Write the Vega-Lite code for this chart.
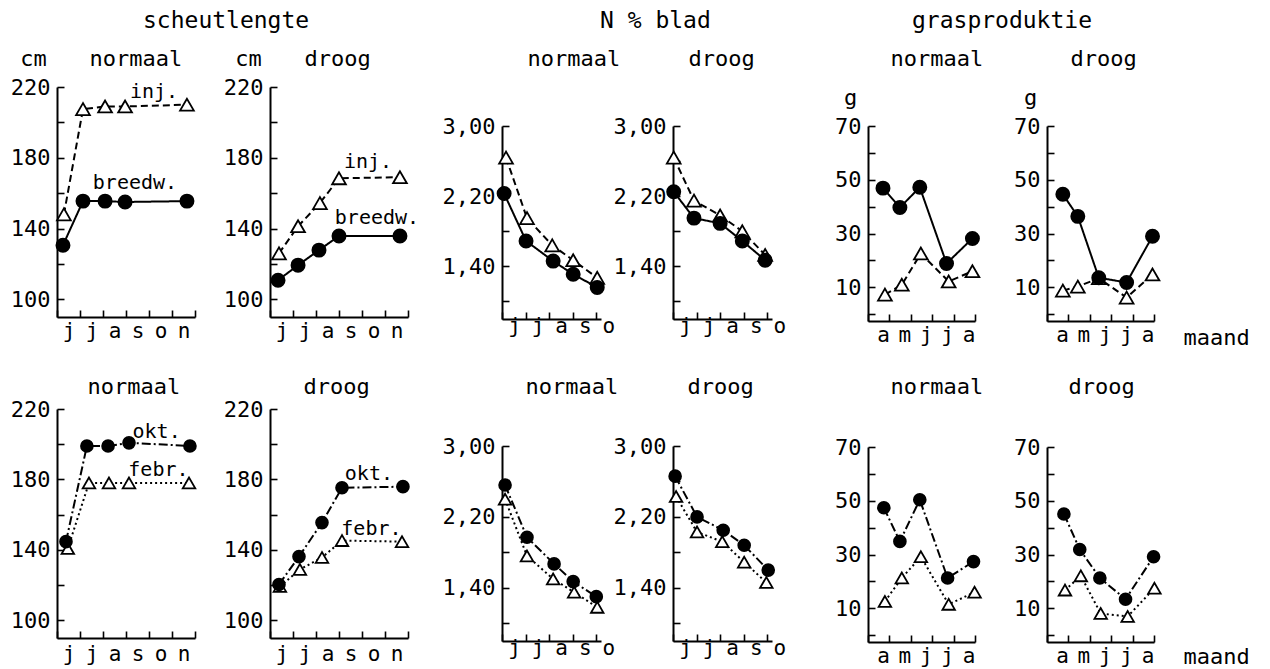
{
  "$schema": "https://vega.github.io/schema/vega-lite/v6.json",
  "background": "white",
  "padding": {"left": 10, "top": 10, "right": 5, "bottom": 5},
  "columns": 6,
  "spacing": {"row": 88, "column": 20},
  "bounds": "flush",
  "align": "each",
  "datasets": {
    "pts": [
      {"p":"A1","s":"inj.","m":0.3,"v":148},{"p":"A1","s":"inj.","m":1.13,"v":207.5},{"p":"A1","s":"inj.","m":2.09,"v":209},{"p":"A1","s":"inj.","m":2.96,"v":209},{"p":"A1","s":"inj.","m":5.65,"v":210},
      {"p":"A1","s":"breedw.","m":0.26,"v":130.6},{"p":"A1","s":"breedw.","m":1.13,"v":155.5},{"p":"A1","s":"breedw.","m":2.09,"v":155.5},{"p":"A1","s":"breedw.","m":2.96,"v":155},{"p":"A1","s":"breedw.","m":5.65,"v":155.5},
      {"p":"B1","s":"inj.","m":0.39,"v":126},{"p":"B1","s":"inj.","m":1.22,"v":141.3},{"p":"B1","s":"inj.","m":2.17,"v":154.4},{"p":"B1","s":"inj.","m":3.0,"v":168.4},{"p":"B1","s":"inj.","m":5.65,"v":169},
      {"p":"B1","s":"breedw.","m":0.35,"v":110.8},{"p":"B1","s":"breedw.","m":1.22,"v":119.3},{"p":"B1","s":"breedw.","m":2.13,"v":127.8},{"p":"B1","s":"breedw.","m":3.0,"v":135.8},{"p":"B1","s":"breedw.","m":5.65,"v":135.8},
      {"p":"C1","s":"inj.","m":0.17,"v":2.64},{"p":"C1","s":"inj.","m":1.06,"v":1.95},{"p":"C1","s":"inj.","m":2.13,"v":1.64},{"p":"C1","s":"inj.","m":3.02,"v":1.47},{"p":"C1","s":"inj.","m":4.04,"v":1.27},
      {"p":"C1","s":"breedw.","m":0.09,"v":2.23},{"p":"C1","s":"breedw.","m":1.02,"v":1.69},{"p":"C1","s":"breedw.","m":2.17,"v":1.46},{"p":"C1","s":"breedw.","m":3.02,"v":1.31},{"p":"C1","s":"breedw.","m":4.04,"v":1.16},
      {"p":"D1","s":"inj.","m":0.03,"v":2.64},{"p":"D1","s":"inj.","m":0.89,"v":2.15},{"p":"D1","s":"inj.","m":2.0,"v":1.98},{"p":"D1","s":"inj.","m":2.94,"v":1.80},{"p":"D1","s":"inj.","m":3.91,"v":1.53},
      {"p":"D1","s":"breedw.","m":0.03,"v":2.25},{"p":"D1","s":"breedw.","m":0.89,"v":1.95},{"p":"D1","s":"breedw.","m":2.0,"v":1.89},{"p":"D1","s":"breedw.","m":2.94,"v":1.69},{"p":"D1","s":"breedw.","m":3.91,"v":1.47},
      {"p":"E1","s":"inj.","m":0.79,"v":7.3},{"p":"E1","s":"inj.","m":1.58,"v":11},{"p":"E1","s":"inj.","m":2.47,"v":22.6},{"p":"E1","s":"inj.","m":3.77,"v":12.2},{"p":"E1","s":"inj.","m":4.88,"v":16},
      {"p":"E1","s":"breedw.","m":0.7,"v":46.9},{"p":"E1","s":"breedw.","m":1.49,"v":39.7},{"p":"E1","s":"breedw.","m":2.42,"v":47.2},{"p":"E1","s":"breedw.","m":3.67,"v":18.9},{"p":"E1","s":"breedw.","m":4.88,"v":28.2},
      {"p":"F1","s":"inj.","m":0.74,"v":8.8},{"p":"F1","s":"inj.","m":1.44,"v":10.3},{"p":"F1","s":"inj.","m":2.42,"v":13.4},{"p":"F1","s":"inj.","m":3.72,"v":6.2},{"p":"F1","s":"inj.","m":4.93,"v":14.8},
      {"p":"F1","s":"breedw.","m":0.74,"v":44.6},{"p":"F1","s":"breedw.","m":1.44,"v":36.4},{"p":"F1","s":"breedw.","m":2.42,"v":13.6},{"p":"F1","s":"breedw.","m":3.72,"v":11.8},{"p":"F1","s":"breedw.","m":4.93,"v":29},
      {"p":"A2","s":"febr.","m":0.47,"v":140.8},{"p":"A2","s":"febr.","m":1.39,"v":178},{"p":"A2","s":"febr.","m":2.26,"v":178},{"p":"A2","s":"febr.","m":3.13,"v":178},{"p":"A2","s":"febr.","m":5.74,"v":178},
      {"p":"A2","s":"okt.","m":0.39,"v":144.7},{"p":"A2","s":"okt.","m":1.3,"v":199},{"p":"A2","s":"okt.","m":2.22,"v":199},{"p":"A2","s":"okt.","m":3.13,"v":200.8},{"p":"A2","s":"okt.","m":5.78,"v":199},
      {"p":"B2","s":"febr.","m":0.43,"v":119.3},{"p":"B2","s":"febr.","m":1.3,"v":128.9},{"p":"B2","s":"febr.","m":2.26,"v":135.7},{"p":"B2","s":"febr.","m":3.13,"v":145.3},{"p":"B2","s":"febr.","m":5.74,"v":144.7},
      {"p":"B2","s":"okt.","m":0.39,"v":120.4},{"p":"B2","s":"okt.","m":1.26,"v":136.2},{"p":"B2","s":"okt.","m":2.26,"v":155.5},{"p":"B2","s":"okt.","m":3.13,"v":175.3},{"p":"B2","s":"okt.","m":5.78,"v":175.9},
      {"p":"C2","s":"febr.","m":0.13,"v":2.40},{"p":"C2","s":"febr.","m":1.06,"v":1.76},{"p":"C2","s":"febr.","m":2.17,"v":1.50},{"p":"C2","s":"febr.","m":3.06,"v":1.35},{"p":"C2","s":"febr.","m":4.04,"v":1.18},
      {"p":"C2","s":"okt.","m":0.13,"v":2.56},{"p":"C2","s":"okt.","m":1.06,"v":1.97},{"p":"C2","s":"okt.","m":2.21,"v":1.67},{"p":"C2","s":"okt.","m":3.02,"v":1.47},{"p":"C2","s":"okt.","m":4.0,"v":1.30},
      {"p":"D2","s":"febr.","m":0.13,"v":2.43},{"p":"D2","s":"febr.","m":1.02,"v":2.03},{"p":"D2","s":"febr.","m":2.09,"v":1.92},{"p":"D2","s":"febr.","m":3.02,"v":1.69},{"p":"D2","s":"febr.","m":3.96,"v":1.46},
      {"p":"D2","s":"okt.","m":0.09,"v":2.66},{"p":"D2","s":"okt.","m":1.02,"v":2.20},{"p":"D2","s":"okt.","m":2.13,"v":2.05},{"p":"D2","s":"okt.","m":3.02,"v":1.88},{"p":"D2","s":"okt.","m":4.04,"v":1.60},
      {"p":"E2","s":"febr.","m":0.79,"v":12.6},{"p":"E2","s":"febr.","m":1.58,"v":21.3},{"p":"E2","s":"febr.","m":2.47,"v":29.2},{"p":"E2","s":"febr.","m":3.77,"v":11.5},{"p":"E2","s":"febr.","m":4.98,"v":16},
      {"p":"E2","s":"okt.","m":0.74,"v":47.4},{"p":"E2","s":"okt.","m":1.49,"v":34.9},{"p":"E2","s":"okt.","m":2.42,"v":50.4},{"p":"E2","s":"okt.","m":3.72,"v":21.3},{"p":"E2","s":"okt.","m":4.93,"v":27.4},
      {"p":"F2","s":"febr.","m":0.84,"v":16.8},{"p":"F2","s":"febr.","m":1.58,"v":22.1},{"p":"F2","s":"febr.","m":2.51,"v":8.1},{"p":"F2","s":"febr.","m":3.77,"v":7.0},{"p":"F2","s":"febr.","m":5.02,"v":17.5},
      {"p":"F2","s":"okt.","m":0.79,"v":45.1},{"p":"F2","s":"okt.","m":1.53,"v":31.9},{"p":"F2","s":"okt.","m":2.47,"v":21.3},{"p":"F2","s":"okt.","m":3.67,"v":13.4},{"p":"F2","s":"okt.","m":4.98,"v":29.2}
    ],
    "lbl": [
      {"p":"A1","t":"inj.","m":4.22,"v":217},{"p":"A1","t":"breedw.","m":3.39,"v":165.7},
      {"p":"B1","t":"inj.","m":4.26,"v":177.5},{"p":"B1","t":"breedw.","m":4.65,"v":145.9},
      {"p":"A2","t":"okt.","m":4.33,"v":207},{"p":"A2","t":"febr.","m":4.41,"v":185.5},
      {"p":"B2","t":"okt.","m":4.3,"v":183},{"p":"B2","t":"febr.","m":4.41,"v":152}
    ]
  },
  "concat": [
    {
      "width": 193, "height": 230,
      "title": {"text": "scheutlengte", "dx": 86, "offset": -9, "baseline": "bottom"},
      "data": {"name": "pts"},
      "transform": [{"filter": "datum.p == 'A1'"}],
      "resolve": {"axis": {"x": "independent", "y": "independent"}},
      "layer": [
        {"mark": {"type": "line", "color": "#000", "strokeWidth": 2},
         "encoding": {
           "x": {"field": "m", "type": "quantitative", "scale": {"domain": [0, 6], "range": [0, 138], "nice": false, "zero": false},
                 "axis": {"values": [0,1,2,3,4,5,6], "labelExpr": "['j','j','a','s','o','n',''][datum.value]", "labelOffset": 11.5, "labelPadding": 27, "labelOverlap": false, "title": null}},
           "y": {"field": "v", "type": "quantitative", "scale": {"domain": [90, 220], "range": [230, 0], "nice": false, "zero": false},
                 "axis": {"values": [100,120,140,160,180,200,220], "labelExpr": "datum.value == 100 || datum.value == 140 || datum.value == 180 || datum.value == 220 ? datum.label : ''", "labelOverlap": false, "title": "normaal", "titleX": 32, "titleY": -22}},
           "strokeDash": {"field": "s", "type": "nominal", "scale": {"domain": ["inj.","breedw.","febr.","okt."], "range": [[7,4],[1,0],[2,3],[9,3,2,3]]}, "legend": null}
         }},
        {"mark": {"type": "point", "filled": true, "stroke": "#000", "strokeWidth": 1.8, "opacity": 1},
         "encoding": {
           "x": {"field": "m", "type": "quantitative", "axis": {"orient": "top", "domain": false, "ticks": false, "labels": false, "title": "cm", "titleX": -24, "titleY": -22, "titleAlign": "center"}},
           "y": {"field": "v", "type": "quantitative", "axis": null},
           "shape": {"field": "s", "type": "nominal", "scale": {"domain": ["inj.","breedw.","febr.","okt."], "range": ["triangle-up","circle","triangle-up","circle"]}, "legend": null},
           "fill": {"field": "s", "type": "nominal", "scale": {"domain": ["inj.","breedw.","febr.","okt."], "range": ["#ffffff","#000000","#ffffff","#000000"]}, "legend": null},
           "size": {"field": "s", "type": "ordinal", "scale": {"domain": ["inj.","breedw.","febr.","okt."], "range": [190,140,190,140]}, "legend": null}
         }},
        {"data": {"name": "lbl"}, "transform": [{"filter": "datum.p == 'A1'"}],
         "mark": {"type": "text", "font": "DejaVu Sans Mono", "fontSize": 20, "baseline": "middle", "align": "center", "color": "#000"},
         "encoding": {"x": {"field": "m", "type": "quantitative", "axis": null}, "y": {"field": "v", "type": "quantitative", "axis": null}, "text": {"field": "t"}}}
      ]
    },
    {
      "width": 212, "height": 230,
      "data": {"name": "pts"},
      "transform": [{"filter": "datum.p == 'B1'"}],
      "resolve": {"axis": {"x": "independent", "y": "independent"}},
      "layer": [
        {"mark": {"type": "line", "color": "#000", "strokeWidth": 2},
         "encoding": {
           "x": {"field": "m", "type": "quantitative", "scale": {"domain": [0, 6], "range": [0, 138], "nice": false, "zero": false},
                 "axis": {"values": [0,1,2,3,4,5,6], "labelExpr": "['j','j','a','s','o','n',''][datum.value]", "labelOffset": 11.5, "labelPadding": 27, "labelOverlap": false, "title": null}},
           "y": {"field": "v", "type": "quantitative", "scale": {"domain": [90, 220], "range": [230, 0], "nice": false, "zero": false},
                 "axis": {"values": [100,120,140,160,180,200,220], "labelExpr": "datum.value == 100 || datum.value == 140 || datum.value == 180 || datum.value == 220 ? datum.label : ''", "labelOverlap": false, "title": "droog", "titleX": 34, "titleY": -22}},
           "strokeDash": {"field": "s", "type": "nominal", "scale": {"domain": ["inj.","breedw.","febr.","okt."], "range": [[7,4],[1,0],[2,3],[9,3,2,3]]}, "legend": null}
         }},
        {"mark": {"type": "point", "filled": true, "stroke": "#000", "strokeWidth": 1.8, "opacity": 1},
         "encoding": {
           "x": {"field": "m", "type": "quantitative", "axis": {"orient": "top", "domain": false, "ticks": false, "labels": false, "title": "cm", "titleX": -22, "titleY": -22, "titleAlign": "center"}},
           "y": {"field": "v", "type": "quantitative", "axis": null},
           "shape": {"field": "s", "type": "nominal", "scale": {"domain": ["inj.","breedw.","febr.","okt."], "range": ["triangle-up","circle","triangle-up","circle"]}, "legend": null},
           "fill": {"field": "s", "type": "nominal", "scale": {"domain": ["inj.","breedw.","febr.","okt."], "range": ["#ffffff","#000000","#ffffff","#000000"]}, "legend": null},
           "size": {"field": "s", "type": "ordinal", "scale": {"domain": ["inj.","breedw.","febr.","okt."], "range": [190,140,190,140]}, "legend": null}
         }},
        {"data": {"name": "lbl"}, "transform": [{"filter": "datum.p == 'B1'"}],
         "mark": {"type": "text", "font": "DejaVu Sans Mono", "fontSize": 20, "baseline": "middle", "align": "center", "color": "#000"},
         "encoding": {"x": {"field": "m", "type": "quantitative", "axis": null}, "y": {"field": "v", "type": "quantitative", "axis": null}, "text": {"field": "t"}}}
      ]
    },
    {
      "width": 151, "height": 232,
      "title": {"text": "N % blad", "dx": 98, "offset": -9, "baseline": "bottom"},
      "data": {"name": "pts"},
      "transform": [{"filter": "datum.p == 'C1'"}],
      "resolve": {"axis": {"x": "independent", "y": "independent"}},
      "layer": [
        {"mark": {"type": "line", "color": "#000", "strokeWidth": 2},
         "encoding": {
           "x": {"field": "m", "type": "quantitative", "scale": {"domain": [0, 4.2], "range": [0, 99], "nice": false, "zero": false},
                 "axis": {"values": [0,1,2,3,4], "labelExpr": "['j','j','a','s','o'][datum.value]", "labelOffset": 12, "labelPadding": 20, "labelOverlap": false, "title": null}},
           "y": {"field": "v", "type": "quantitative", "scale": {"domain": [0.8, 3.0], "range": [232, 39], "nice": false, "zero": false},
                 "axis": {"values": [1,1.4,1.8,2.2,2.6,3], "labelExpr": "abs(datum.value-1.4)<0.01 || abs(datum.value-2.2)<0.01 || abs(datum.value-3)<0.01 ? replace(format(datum.value,'.2f'),'.',',') : ''", "labelOverlap": false, "title": "normaal", "titleX": 25, "titleY": -22}},
           "strokeDash": {"field": "s", "type": "nominal", "scale": {"domain": ["inj.","breedw.","febr.","okt."], "range": [[7,4],[1,0],[2,3],[9,3,2,3]]}, "legend": null}
         }},
        {"mark": {"type": "point", "filled": true, "stroke": "#000", "strokeWidth": 1.8, "opacity": 1},
         "encoding": {
           "x": {"field": "m", "type": "quantitative", "axis": null},
           "y": {"field": "v", "type": "quantitative", "axis": null},
           "shape": {"field": "s", "type": "nominal", "scale": {"domain": ["inj.","breedw.","febr.","okt."], "range": ["triangle-up","circle","triangle-up","circle"]}, "legend": null},
           "fill": {"field": "s", "type": "nominal", "scale": {"domain": ["inj.","breedw.","febr.","okt."], "range": ["#ffffff","#000000","#ffffff","#000000"]}, "legend": null},
           "size": {"field": "s", "type": "ordinal", "scale": {"domain": ["inj.","breedw.","febr.","okt."], "range": [190,140,190,140]}, "legend": null}
         }}
      ]
    },
    {
      "width": 175, "height": 232,
      "data": {"name": "pts"},
      "transform": [{"filter": "datum.p == 'D1'"}],
      "resolve": {"axis": {"x": "independent", "y": "independent"}},
      "layer": [
        {"mark": {"type": "line", "color": "#000", "strokeWidth": 2},
         "encoding": {
           "x": {"field": "m", "type": "quantitative", "scale": {"domain": [0, 4.2], "range": [0, 99], "nice": false, "zero": false},
                 "axis": {"values": [0,1,2,3,4], "labelExpr": "['j','j','a','s','o'][datum.value]", "labelOffset": 12, "labelPadding": 20, "labelOverlap": false, "title": null}},
           "y": {"field": "v", "type": "quantitative", "scale": {"domain": [0.8, 3.0], "range": [232, 39], "nice": false, "zero": false},
                 "axis": {"values": [1,1.4,1.8,2.2,2.6,3], "labelExpr": "abs(datum.value-1.4)<0.01 || abs(datum.value-2.2)<0.01 || abs(datum.value-3)<0.01 ? replace(format(datum.value,'.2f'),'.',',') : ''", "labelOverlap": false, "title": "droog", "titleX": 15, "titleY": -22}},
           "strokeDash": {"field": "s", "type": "nominal", "scale": {"domain": ["inj.","breedw.","febr.","okt."], "range": [[7,4],[1,0],[2,3],[9,3,2,3]]}, "legend": null}
         }},
        {"mark": {"type": "point", "filled": true, "stroke": "#000", "strokeWidth": 1.8, "opacity": 1},
         "encoding": {
           "x": {"field": "m", "type": "quantitative", "axis": null},
           "y": {"field": "v", "type": "quantitative", "axis": null},
           "shape": {"field": "s", "type": "nominal", "scale": {"domain": ["inj.","breedw.","febr.","okt."], "range": ["triangle-up","circle","triangle-up","circle"]}, "legend": null},
           "fill": {"field": "s", "type": "nominal", "scale": {"domain": ["inj.","breedw.","febr.","okt."], "range": ["#ffffff","#000000","#ffffff","#000000"]}, "legend": null},
           "size": {"field": "s", "type": "ordinal", "scale": {"domain": ["inj.","breedw.","febr.","okt."], "range": [190,140,190,140]}, "legend": null}
         }}
      ]
    },
    {
      "width": 159, "height": 234,
      "title": {"text": "grasproduktie", "dx": 44, "offset": -9, "baseline": "bottom"},
      "data": {"name": "pts"},
      "transform": [{"filter": "datum.p == 'E1'"}],
      "resolve": {"axis": {"x": "independent", "y": "independent"}},
      "layer": [
        {"mark": {"type": "line", "color": "#000", "strokeWidth": 2},
         "encoding": {
           "x": {"field": "m", "type": "quantitative", "scale": {"domain": [0, 5], "range": [0, 107], "nice": false, "zero": false},
                 "axis": {"values": [0,1,2,3,4,5], "labelExpr": "['a','m','j','j','a',''][datum.value]", "labelOffset": 15, "labelPadding": 27, "labelOverlap": false, "title": null}},
           "y": {"field": "v", "type": "quantitative", "scale": {"domain": [-2.5, 70], "range": [234, 39], "nice": false, "zero": false},
                 "axis": {"values": [0,10,20,30,40,50,60,70], "labelExpr": "datum.value == 10 || datum.value == 30 || datum.value == 50 || datum.value == 70 ? datum.label : ''", "labelOverlap": false, "title": "normaal", "titleX": 22, "titleY": -22}},
           "strokeDash": {"field": "s", "type": "nominal", "scale": {"domain": ["inj.","breedw.","febr.","okt."], "range": [[7,4],[1,0],[2,3],[9,3,2,3]]}, "legend": null}
         }},
        {"mark": {"type": "point", "filled": true, "stroke": "#000", "strokeWidth": 1.8, "opacity": 1},
         "encoding": {
           "x": {"field": "m", "type": "quantitative", "axis": {"orient": "top", "domain": false, "ticks": false, "labels": false, "title": "g", "titleX": -18, "titleY": 17, "titleAlign": "center"}},
           "y": {"field": "v", "type": "quantitative", "axis": null},
           "shape": {"field": "s", "type": "nominal", "scale": {"domain": ["inj.","breedw.","febr.","okt."], "range": ["triangle-up","circle","triangle-up","circle"]}, "legend": null},
           "fill": {"field": "s", "type": "nominal", "scale": {"domain": ["inj.","breedw.","febr.","okt."], "range": ["#ffffff","#000000","#ffffff","#000000"]}, "legend": null},
           "size": {"field": "s", "type": "ordinal", "scale": {"domain": ["inj.","breedw.","febr.","okt."], "range": [190,140,190,140]}, "legend": null}
         }}
      ]
    },
    {
      "width": 130, "height": 234,
      "data": {"name": "pts"},
      "transform": [{"filter": "datum.p == 'F1'"}],
      "resolve": {"axis": {"x": "independent", "y": "independent"}},
      "layer": [
        {"mark": {"type": "line", "color": "#000", "strokeWidth": 2},
         "encoding": {
           "x": {"field": "m", "type": "quantitative", "scale": {"domain": [0, 5], "range": [0, 107], "nice": false, "zero": false},
                 "axis": {"values": [0,1,2,3,4,5], "labelExpr": "['a','m','j','j','a',''][datum.value]", "labelOffset": 15, "labelPadding": 27, "labelOverlap": false, "title": "maand", "titleX": 136, "titleY": 23}},
           "y": {"field": "v", "type": "quantitative", "scale": {"domain": [-2.5, 70], "range": [234, 39], "nice": false, "zero": false},
                 "axis": {"values": [0,10,20,30,40,50,60,70], "labelExpr": "datum.value == 10 || datum.value == 30 || datum.value == 50 || datum.value == 70 ? datum.label : ''", "labelOverlap": false, "title": "droog", "titleX": 23, "titleY": -22}},
           "strokeDash": {"field": "s", "type": "nominal", "scale": {"domain": ["inj.","breedw.","febr.","okt."], "range": [[7,4],[1,0],[2,3],[9,3,2,3]]}, "legend": null}
         }},
        {"mark": {"type": "point", "filled": true, "stroke": "#000", "strokeWidth": 1.8, "opacity": 1},
         "encoding": {
           "x": {"field": "m", "type": "quantitative", "axis": {"orient": "top", "domain": false, "ticks": false, "labels": false, "title": "g", "titleX": -17, "titleY": 17, "titleAlign": "center"}},
           "y": {"field": "v", "type": "quantitative", "axis": null},
           "shape": {"field": "s", "type": "nominal", "scale": {"domain": ["inj.","breedw.","febr.","okt."], "range": ["triangle-up","circle","triangle-up","circle"]}, "legend": null},
           "fill": {"field": "s", "type": "nominal", "scale": {"domain": ["inj.","breedw.","febr.","okt."], "range": ["#ffffff","#000000","#ffffff","#000000"]}, "legend": null},
           "size": {"field": "s", "type": "ordinal", "scale": {"domain": ["inj.","breedw.","febr.","okt."], "range": [190,140,190,140]}, "legend": null}
         }}
      ]
    },
    {
      "width": 193, "height": 229,
      "data": {"name": "pts"},
      "transform": [{"filter": "datum.p == 'A2'"}],
      "resolve": {"axis": {"x": "independent", "y": "independent"}},
      "layer": [
        {"mark": {"type": "line", "color": "#000", "strokeWidth": 2},
         "encoding": {
           "x": {"field": "m", "type": "quantitative", "scale": {"domain": [0, 6], "range": [0, 138], "nice": false, "zero": false},
                 "axis": {"values": [0,1,2,3,4,5,6], "labelExpr": "['j','j','a','s','o','n',''][datum.value]", "labelOffset": 11.5, "labelPadding": 29, "labelOverlap": false, "title": null}},
           "y": {"field": "v", "type": "quantitative", "scale": {"domain": [90, 220], "range": [229, 0], "nice": false, "zero": false},
                 "axis": {"values": [100,120,140,160,180,200,220], "labelExpr": "datum.value == 100 || datum.value == 140 || datum.value == 180 || datum.value == 220 ? datum.label : ''", "labelOverlap": false, "title": "normaal", "titleX": 30, "titleY": -16}},
           "strokeDash": {"field": "s", "type": "nominal", "scale": {"domain": ["inj.","breedw.","febr.","okt."], "range": [[7,4],[1,0],[2,3],[9,3,2,3]]}, "legend": null}
         }},
        {"mark": {"type": "point", "filled": true, "stroke": "#000", "strokeWidth": 1.8, "opacity": 1},
         "encoding": {
           "x": {"field": "m", "type": "quantitative", "axis": null},
           "y": {"field": "v", "type": "quantitative", "axis": null},
           "shape": {"field": "s", "type": "nominal", "scale": {"domain": ["inj.","breedw.","febr.","okt."], "range": ["triangle-up","circle","triangle-up","circle"]}, "legend": null},
           "fill": {"field": "s", "type": "nominal", "scale": {"domain": ["inj.","breedw.","febr.","okt."], "range": ["#ffffff","#000000","#ffffff","#000000"]}, "legend": null},
           "size": {"field": "s", "type": "ordinal", "scale": {"domain": ["inj.","breedw.","febr.","okt."], "range": [190,140,190,140]}, "legend": null}
         }},
        {"data": {"name": "lbl"}, "transform": [{"filter": "datum.p == 'A2'"}],
         "mark": {"type": "text", "font": "DejaVu Sans Mono", "fontSize": 20, "baseline": "middle", "align": "center", "color": "#000"},
         "encoding": {"x": {"field": "m", "type": "quantitative", "axis": null}, "y": {"field": "v", "type": "quantitative", "axis": null}, "text": {"field": "t"}}}
      ]
    },
    {
      "width": 212, "height": 229,
      "data": {"name": "pts"},
      "transform": [{"filter": "datum.p == 'B2'"}],
      "resolve": {"axis": {"x": "independent", "y": "independent"}},
      "layer": [
        {"mark": {"type": "line", "color": "#000", "strokeWidth": 2},
         "encoding": {
           "x": {"field": "m", "type": "quantitative", "scale": {"domain": [0, 6], "range": [0, 138], "nice": false, "zero": false},
                 "axis": {"values": [0,1,2,3,4,5,6], "labelExpr": "['j','j','a','s','o','n',''][datum.value]", "labelOffset": 11.5, "labelPadding": 29, "labelOverlap": false, "title": null}},
           "y": {"field": "v", "type": "quantitative", "scale": {"domain": [90, 220], "range": [229, 0], "nice": false, "zero": false},
                 "axis": {"values": [100,120,140,160,180,200,220], "labelExpr": "datum.value == 100 || datum.value == 140 || datum.value == 180 || datum.value == 220 ? datum.label : ''", "labelOverlap": false, "title": "droog", "titleX": 33, "titleY": -16}},
           "strokeDash": {"field": "s", "type": "nominal", "scale": {"domain": ["inj.","breedw.","febr.","okt."], "range": [[7,4],[1,0],[2,3],[9,3,2,3]]}, "legend": null}
         }},
        {"mark": {"type": "point", "filled": true, "stroke": "#000", "strokeWidth": 1.8, "opacity": 1},
         "encoding": {
           "x": {"field": "m", "type": "quantitative", "axis": null},
           "y": {"field": "v", "type": "quantitative", "axis": null},
           "shape": {"field": "s", "type": "nominal", "scale": {"domain": ["inj.","breedw.","febr.","okt."], "range": ["triangle-up","circle","triangle-up","circle"]}, "legend": null},
           "fill": {"field": "s", "type": "nominal", "scale": {"domain": ["inj.","breedw.","febr.","okt."], "range": ["#ffffff","#000000","#ffffff","#000000"]}, "legend": null},
           "size": {"field": "s", "type": "ordinal", "scale": {"domain": ["inj.","breedw.","febr.","okt."], "range": [190,140,190,140]}, "legend": null}
         }},
        {"data": {"name": "lbl"}, "transform": [{"filter": "datum.p == 'B2'"}],
         "mark": {"type": "text", "font": "DejaVu Sans Mono", "fontSize": 20, "baseline": "middle", "align": "center", "color": "#000"},
         "encoding": {"x": {"field": "m", "type": "quantitative", "axis": null}, "y": {"field": "v", "type": "quantitative", "axis": null}, "text": {"field": "t"}}}
      ]
    },
    {
      "width": 151, "height": 232,
      "data": {"name": "pts"},
      "transform": [{"filter": "datum.p == 'C2'"}],
      "resolve": {"axis": {"x": "independent", "y": "independent"}},
      "layer": [
        {"mark": {"type": "line", "color": "#000", "strokeWidth": 2},
         "encoding": {
           "x": {"field": "m", "type": "quantitative", "scale": {"domain": [0, 4.2], "range": [0, 99], "nice": false, "zero": false},
                 "axis": {"values": [0,1,2,3,4], "labelExpr": "['j','j','a','s','o'][datum.value]", "labelOffset": 12, "labelPadding": 20, "labelOverlap": false, "title": null}},
           "y": {"field": "v", "type": "quantitative", "scale": {"domain": [0.8, 3.0], "range": [232, 37], "nice": false, "zero": false},
                 "axis": {"values": [1,1.4,1.8,2.2,2.6,3], "labelExpr": "abs(datum.value-1.4)<0.01 || abs(datum.value-2.2)<0.01 || abs(datum.value-3)<0.01 ? replace(format(datum.value,'.2f'),'.',',') : ''", "labelOverlap": false, "title": "normaal", "titleX": 23, "titleY": -16}},
           "strokeDash": {"field": "s", "type": "nominal", "scale": {"domain": ["inj.","breedw.","febr.","okt."], "range": [[7,4],[1,0],[2,3],[9,3,2,3]]}, "legend": null}
         }},
        {"mark": {"type": "point", "filled": true, "stroke": "#000", "strokeWidth": 1.8, "opacity": 1},
         "encoding": {
           "x": {"field": "m", "type": "quantitative", "axis": null},
           "y": {"field": "v", "type": "quantitative", "axis": null},
           "shape": {"field": "s", "type": "nominal", "scale": {"domain": ["inj.","breedw.","febr.","okt."], "range": ["triangle-up","circle","triangle-up","circle"]}, "legend": null},
           "fill": {"field": "s", "type": "nominal", "scale": {"domain": ["inj.","breedw.","febr.","okt."], "range": ["#ffffff","#000000","#ffffff","#000000"]}, "legend": null},
           "size": {"field": "s", "type": "ordinal", "scale": {"domain": ["inj.","breedw.","febr.","okt."], "range": [190,140,190,140]}, "legend": null}
         }}
      ]
    },
    {
      "width": 175, "height": 232,
      "data": {"name": "pts"},
      "transform": [{"filter": "datum.p == 'D2'"}],
      "resolve": {"axis": {"x": "independent", "y": "independent"}},
      "layer": [
        {"mark": {"type": "line", "color": "#000", "strokeWidth": 2},
         "encoding": {
           "x": {"field": "m", "type": "quantitative", "scale": {"domain": [0, 4.2], "range": [0, 99], "nice": false, "zero": false},
                 "axis": {"values": [0,1,2,3,4], "labelExpr": "['j','j','a','s','o'][datum.value]", "labelOffset": 12, "labelPadding": 20, "labelOverlap": false, "title": null}},
           "y": {"field": "v", "type": "quantitative", "scale": {"domain": [0.8, 3.0], "range": [232, 37], "nice": false, "zero": false},
                 "axis": {"values": [1,1.4,1.8,2.2,2.6,3], "labelExpr": "abs(datum.value-1.4)<0.01 || abs(datum.value-2.2)<0.01 || abs(datum.value-3)<0.01 ? replace(format(datum.value,'.2f'),'.',',') : ''", "labelOverlap": false, "title": "droog", "titleX": 14, "titleY": -16}},
           "strokeDash": {"field": "s", "type": "nominal", "scale": {"domain": ["inj.","breedw.","febr.","okt."], "range": [[7,4],[1,0],[2,3],[9,3,2,3]]}, "legend": null}
         }},
        {"mark": {"type": "point", "filled": true, "stroke": "#000", "strokeWidth": 1.8, "opacity": 1},
         "encoding": {
           "x": {"field": "m", "type": "quantitative", "axis": null},
           "y": {"field": "v", "type": "quantitative", "axis": null},
           "shape": {"field": "s", "type": "nominal", "scale": {"domain": ["inj.","breedw.","febr.","okt."], "range": ["triangle-up","circle","triangle-up","circle"]}, "legend": null},
           "fill": {"field": "s", "type": "nominal", "scale": {"domain": ["inj.","breedw.","febr.","okt."], "range": ["#ffffff","#000000","#ffffff","#000000"]}, "legend": null},
           "size": {"field": "s", "type": "ordinal", "scale": {"domain": ["inj.","breedw.","febr.","okt."], "range": [190,140,190,140]}, "legend": null}
         }}
      ]
    },
    {
      "width": 159, "height": 233,
      "data": {"name": "pts"},
      "transform": [{"filter": "datum.p == 'E2'"}],
      "resolve": {"axis": {"x": "independent", "y": "independent"}},
      "layer": [
        {"mark": {"type": "line", "color": "#000", "strokeWidth": 2},
         "encoding": {
           "x": {"field": "m", "type": "quantitative", "scale": {"domain": [0, 5], "range": [0, 107], "nice": false, "zero": false},
                 "axis": {"values": [0,1,2,3,4,5], "labelExpr": "['a','m','j','j','a',''][datum.value]", "labelOffset": 15, "labelPadding": 27, "labelOverlap": false, "title": null}},
           "y": {"field": "v", "type": "quantitative", "scale": {"domain": [-2.5, 70], "range": [233, 38], "nice": false, "zero": false},
                 "axis": {"values": [0,10,20,30,40,50,60,70], "labelExpr": "datum.value == 10 || datum.value == 30 || datum.value == 50 || datum.value == 70 ? datum.label : ''", "labelOverlap": false, "title": "normaal", "titleX": 22, "titleY": -16}},
           "strokeDash": {"field": "s", "type": "nominal", "scale": {"domain": ["inj.","breedw.","febr.","okt."], "range": [[7,4],[1,0],[2,3],[9,3,2,3]]}, "legend": null}
         }},
        {"mark": {"type": "point", "filled": true, "stroke": "#000", "strokeWidth": 1.8, "opacity": 1},
         "encoding": {
           "x": {"field": "m", "type": "quantitative", "axis": null},
           "y": {"field": "v", "type": "quantitative", "axis": null},
           "shape": {"field": "s", "type": "nominal", "scale": {"domain": ["inj.","breedw.","febr.","okt."], "range": ["triangle-up","circle","triangle-up","circle"]}, "legend": null},
           "fill": {"field": "s", "type": "nominal", "scale": {"domain": ["inj.","breedw.","febr.","okt."], "range": ["#ffffff","#000000","#ffffff","#000000"]}, "legend": null},
           "size": {"field": "s", "type": "ordinal", "scale": {"domain": ["inj.","breedw.","febr.","okt."], "range": [190,140,190,140]}, "legend": null}
         }}
      ]
    },
    {
      "width": 130, "height": 233,
      "data": {"name": "pts"},
      "transform": [{"filter": "datum.p == 'F2'"}],
      "resolve": {"axis": {"x": "independent", "y": "independent"}},
      "layer": [
        {"mark": {"type": "line", "color": "#000", "strokeWidth": 2},
         "encoding": {
           "x": {"field": "m", "type": "quantitative", "scale": {"domain": [0, 5], "range": [0, 107], "nice": false, "zero": false},
                 "axis": {"values": [0,1,2,3,4,5], "labelExpr": "['a','m','j','j','a',''][datum.value]", "labelOffset": 15, "labelPadding": 27, "labelOverlap": false, "title": "maand", "titleX": 136, "titleY": 21}},
           "y": {"field": "v", "type": "quantitative", "scale": {"domain": [-2.5, 70], "range": [233, 38], "nice": false, "zero": false},
                 "axis": {"values": [0,10,20,30,40,50,60,70], "labelExpr": "datum.value == 10 || datum.value == 30 || datum.value == 50 || datum.value == 70 ? datum.label : ''", "labelOverlap": false, "title": "droog", "titleX": 21, "titleY": -16}},
           "strokeDash": {"field": "s", "type": "nominal", "scale": {"domain": ["inj.","breedw.","febr.","okt."], "range": [[7,4],[1,0],[2,3],[9,3,2,3]]}, "legend": null}
         }},
        {"mark": {"type": "point", "filled": true, "stroke": "#000", "strokeWidth": 1.8, "opacity": 1},
         "encoding": {
           "x": {"field": "m", "type": "quantitative", "axis": null},
           "y": {"field": "v", "type": "quantitative", "axis": null},
           "shape": {"field": "s", "type": "nominal", "scale": {"domain": ["inj.","breedw.","febr.","okt."], "range": ["triangle-up","circle","triangle-up","circle"]}, "legend": null},
           "fill": {"field": "s", "type": "nominal", "scale": {"domain": ["inj.","breedw.","febr.","okt."], "range": ["#ffffff","#000000","#ffffff","#000000"]}, "legend": null},
           "size": {"field": "s", "type": "ordinal", "scale": {"domain": ["inj.","breedw.","febr.","okt."], "range": [190,140,190,140]}, "legend": null}
         }}
      ]
    }
  ],
  "config": {
    "font": "DejaVu Sans Mono",
    "view": {"stroke": null},
    "axis": {
      "domainColor": "#000", "domainWidth": 2, "tickColor": "#000", "tickWidth": 1.6, "tickSize": -7,
      "grid": false, "labelFont": "DejaVu Sans Mono", "labelFontSize": 22, "labelColor": "#000",
      "labelOverlap": false, "labelFlush": false,
      "titleFont": "DejaVu Sans Mono", "titleFontSize": 22, "titleColor": "#000", "titleFontWeight": "normal",
      "titleAngle": 0, "titleAlign": "left", "titleBaseline": "alphabetic"
    },
    "axisX": {"labelFontSize": 21, "labelBaseline": "alphabetic"},
    "axisY": {"labelBaseline": "middle", "labelPadding": 14},
    "title": {"font": "DejaVu Sans Mono", "fontSize": 23, "fontWeight": "normal", "color": "#000", "anchor": "start", "frame": "group"}
  }
}
